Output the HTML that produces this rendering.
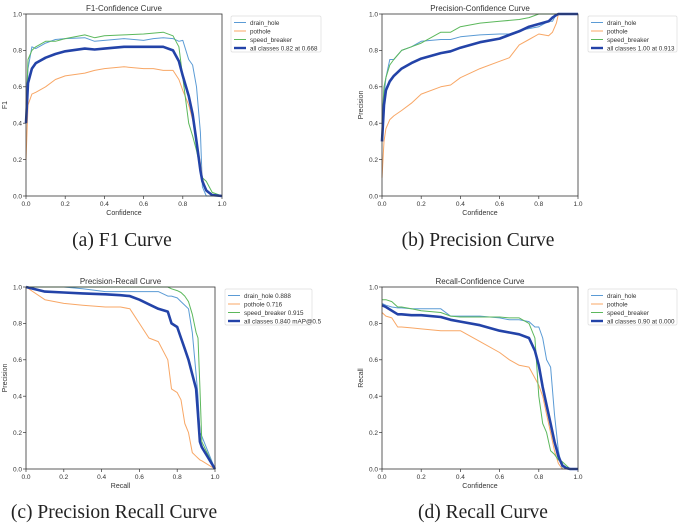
<!DOCTYPE html>
<html><head><meta charset="utf-8">
<style>
body{margin:0;background:#fff;width:685px;height:523px;overflow:hidden}
svg{display:block}
text{font-family:"Liberation Sans",sans-serif;fill:#333}
.cap{font-family:"Liberation Serif",serif;font-size:19.5px;fill:#222}
</style></head>
<body>
<svg id="s" width="685" height="523" xmlns="http://www.w3.org/2000/svg"></svg>
<script>
// Panel (a) F1-Confidence
const f1X = [0,0.01,0.03,0.05,0.1,0.15,0.2,0.3,0.35,0.4,0.5,0.6,0.65,0.7,0.75,0.78,0.8,0.83,0.85,0.87,0.89,0.9,0.92,0.95,1.0];
const f1Drain = [0.45,0.7,0.82,0.81,0.84,0.86,0.865,0.87,0.85,0.855,0.865,0.855,0.865,0.87,0.865,0.85,0.855,0.75,0.72,0.6,0.35,0.05,0,0,0];
const f1Pothole = [0.2,0.5,0.56,0.57,0.6,0.64,0.66,0.675,0.69,0.7,0.71,0.70,0.70,0.69,0.69,0.64,0.58,0.5,0.42,0.3,0.18,0.1,0.03,0.01,0];
const f1Speed = [0.45,0.75,0.8,0.82,0.85,0.85,0.865,0.885,0.87,0.88,0.885,0.89,0.895,0.9,0.88,0.82,0.65,0.4,0.33,0.25,0.15,0.1,0.08,0.02,0];
const f1All = [0.4,0.62,0.7,0.73,0.76,0.78,0.795,0.81,0.805,0.81,0.82,0.82,0.82,0.82,0.80,0.74,0.66,0.55,0.45,0.3,0.14,0.08,0.03,0.005,0];
// Panel (b) Precision-Confidence
const pX = [0,0.01,0.02,0.04,0.06,0.1,0.15,0.2,0.3,0.35,0.4,0.5,0.6,0.65,0.7,0.75,0.8,0.85,0.87,0.89,0.9,1.0];
const pDrain = [0.3,0.55,0.65,0.75,0.75,0.8,0.82,0.85,0.86,0.86,0.875,0.885,0.89,0.89,0.91,0.92,0.93,0.96,0.96,1.0,1.0,1.0];
const pPothole = [0.1,0.3,0.37,0.42,0.44,0.47,0.51,0.56,0.6,0.61,0.65,0.7,0.74,0.76,0.83,0.86,0.89,0.88,0.9,0.95,1.0,1.0];
const pSpeed = [0.4,0.6,0.65,0.72,0.75,0.8,0.82,0.84,0.9,0.9,0.93,0.95,0.96,0.965,0.97,0.98,1.0,1.0,1.0,1.0,1.0,1.0];
const pAll = [0.3,0.5,0.58,0.63,0.66,0.7,0.73,0.755,0.785,0.795,0.815,0.845,0.865,0.885,0.905,0.93,0.945,0.96,0.98,0.995,1.0,1.0];
// Panel (c) Precision-Recall
const prX = [0,0.1,0.2,0.3,0.42,0.5,0.55,0.6,0.65,0.7,0.75,0.77,0.8,0.82,0.84,0.86,0.88,0.9,0.91,0.92,0.93,1.0];
const prDrain = [1,1,1,0.99,0.975,0.975,0.975,0.975,0.975,0.975,0.95,0.95,0.94,0.92,0.9,0.88,0.75,0.52,0.4,0.2,0.18,0];
const prPothole = [1,0.93,0.91,0.9,0.89,0.89,0.88,0.8,0.72,0.7,0.6,0.44,0.42,0.38,0.25,0.2,0.09,0.07,0.06,0.05,0.045,0];
const prSpeed = [1,1,1,1,1,1,1,1,1,1,1,0.99,0.98,0.97,0.95,0.92,0.85,0.75,0.72,0.45,0.15,0];
const prAll = [1,0.975,0.97,0.965,0.96,0.955,0.95,0.93,0.905,0.88,0.865,0.8,0.78,0.72,0.66,0.6,0.52,0.44,0.3,0.15,0.12,0];
// Panel (d) Recall-Confidence
const rX = [0,0.02,0.05,0.08,0.1,0.15,0.2,0.3,0.35,0.4,0.5,0.6,0.65,0.7,0.75,0.78,0.8,0.82,0.84,0.86,0.88,0.9,0.92,0.94,0.96,1.0];
const rDrain = [0.91,0.9,0.89,0.885,0.885,0.88,0.88,0.88,0.84,0.84,0.84,0.83,0.82,0.82,0.81,0.78,0.78,0.72,0.6,0.56,0.3,0.1,0,0,0,0];
const rPothole = [0.86,0.84,0.83,0.78,0.78,0.775,0.77,0.76,0.76,0.76,0.7,0.64,0.6,0.57,0.56,0.5,0.46,0.4,0.3,0.2,0.1,0.03,0,0,0,0];
const rSpeed = [0.93,0.93,0.92,0.89,0.89,0.88,0.87,0.86,0.84,0.835,0.835,0.835,0.83,0.83,0.8,0.72,0.4,0.25,0.2,0.1,0.08,0.05,0.04,0.02,0,0];
const rAll = [0.9,0.89,0.87,0.85,0.85,0.845,0.845,0.835,0.82,0.81,0.79,0.76,0.75,0.74,0.72,0.65,0.57,0.45,0.35,0.25,0.15,0.07,0.02,0.005,0,0];
const ticks = ["0.0","0.2","0.4","0.6","0.8","1.0"];

const NS="http://www.w3.org/2000/svg";
const svg=document.getElementById('s');
function mk(tag,attrs,parent){const e=document.createElementNS(NS,tag);for(const k in attrs)e.setAttribute(k,attrs[k]);(parent||svg).appendChild(e);return e;}
const colors={drain:"#5b9bd5",pothole:"#f8a766",speed:"#5cb85c",all:"#2343a8"};

function panel(p){
  const g=mk('g',{});
  
  
  const sx=v=>p.x0+v*(p.x1-p.x0), sy=v=>p.y1-v*(p.y1-p.y0);
  const t=mk('text',{x:(p.x0+p.x1)/2,y:p.y0-3,'text-anchor':'middle','font-size':8},g);t.textContent=p.title;
  
  
  ticks.forEach((lb,i)=>{const v=i/5;
    mk('line',{x1:sx(v),x2:sx(v),y1:p.y1,y2:p.y1+3,stroke:'#333','stroke-width':0.7},g);
    const tx=mk('text',{x:sx(v),y:p.y1+10,'text-anchor':'middle','font-size':6.5},g);tx.textContent=lb;
    
    
    mk('line',{x1:p.x0-3,x2:p.x0,y1:sy(v),y2:sy(v),stroke:'#333','stroke-width':0.7},g);
    const ty=mk('text',{x:p.x0-4,y:sy(v)+2.3,'text-anchor':'end','font-size':6.5},g);ty.textContent=lb;
    
    
  });
  const xl=mk('text',{x:(p.x0+p.x1)/2,y:p.y1+19,'text-anchor':'middle','font-size':7},g);xl.textContent=p.xlab;
  
  
  const yx=p.x0-19,yy=(p.y0+p.y1)/2;
  const yl=mk('text',{x:yx,y:yy,'text-anchor':'middle','font-size':7,transform:`rotate(-90 ${yx} ${yy})`},g);yl.textContent=p.ylab;
  
  
  const keys=['drain','pothole','speed','all'];
  keys.forEach((k,i)=>{
    const ys=p.series[i];
    const d=p.xs.map((v,j)=>(j?'L':'M')+sx(v).toFixed(1)+' '+sy(ys[j]).toFixed(1)).join(' ');
    const path=mk('path',{d:d,fill:'none',stroke:colors[k],'stroke-width':k==='all'?2.6:1,'stroke-linejoin':'round'},g);
    
    
  });
  mk('rect',{x:p.x0,y:p.y0,width:p.x1-p.x0,height:p.y1-p.y0,fill:'none',stroke:'#333','stroke-width':0.8},g);
  const lg=mk('g',{},g);
  
  
  mk('rect',{x:p.lx,y:p.ly,width:p.lw,height:36,fill:'#fff',stroke:'#ddd','stroke-width':0.7,rx:1.5},lg);
  keys.forEach((k,i)=>{
    const y=p.ly+6.5+i*8.5;
    mk('line',{x1:p.lx+3,x2:p.lx+15,y1:y,y2:y,stroke:colors[k],'stroke-width':k==='all'?2.4:1},lg);
    const tt=mk('text',{x:p.lx+19,y:y+2.3,'font-size':6.3},lg);tt.textContent=p.labels[i];
    
    
  });
  const c=mk('text',{x:p.cx,y:p.cy,'text-anchor':'middle',class:'cap'},g);c.textContent=p.cap;
  
  
}
panel({name:'f1-confidence-chart',title:'F1-Confidence Curve',xlab:'Confidence',ylab:'F1',x0:26,x1:222,y0:14,y1:196,xs:f1X,series:[f1Drain,f1Pothole,f1Speed,f1All],lx:231,ly:16,lw:90,labels:['drain_hole','pothole','speed_breaker','all classes 0.82 at 0.668'],cap:'(a) F1 Curve',cx:122,cy:246});
panel({name:'precision-confidence-chart',title:'Precision-Confidence Curve',xlab:'Confidence',ylab:'Precision',x0:382,x1:578,y0:14,y1:196,xs:pX,series:[pDrain,pPothole,pSpeed,pAll],lx:588,ly:16,lw:89,labels:['drain_hole','pothole','speed_breaker','all classes 1.00 at 0.913'],cap:'(b) Precision Curve',cx:478,cy:246});
panel({name:'precision-recall-chart',title:'Precision-Recall Curve',xlab:'Recall',ylab:'Precision',x0:26,x1:215,y0:287,y1:469,xs:prX,series:[prDrain,prPothole,prSpeed,prAll],lx:225,ly:289,lw:87,labels:['drain_hole 0.888','pothole 0.716','speed_breaker 0.915','all classes 0.840 mAP@0.5'],cap:'(c) Precision Recall Curve',cx:114,cy:518});
panel({name:'recall-confidence-chart',title:'Recall-Confidence Curve',xlab:'Confidence',ylab:'Recall',x0:382,x1:578,y0:287,y1:469,xs:rX,series:[rDrain,rPothole,rSpeed,rAll],lx:588,ly:289,lw:89,labels:['drain_hole','pothole','speed_breaker','all classes 0.90 at 0.000'],cap:'(d) Recall Curve',cx:483,cy:518});
</script>
</body></html>
